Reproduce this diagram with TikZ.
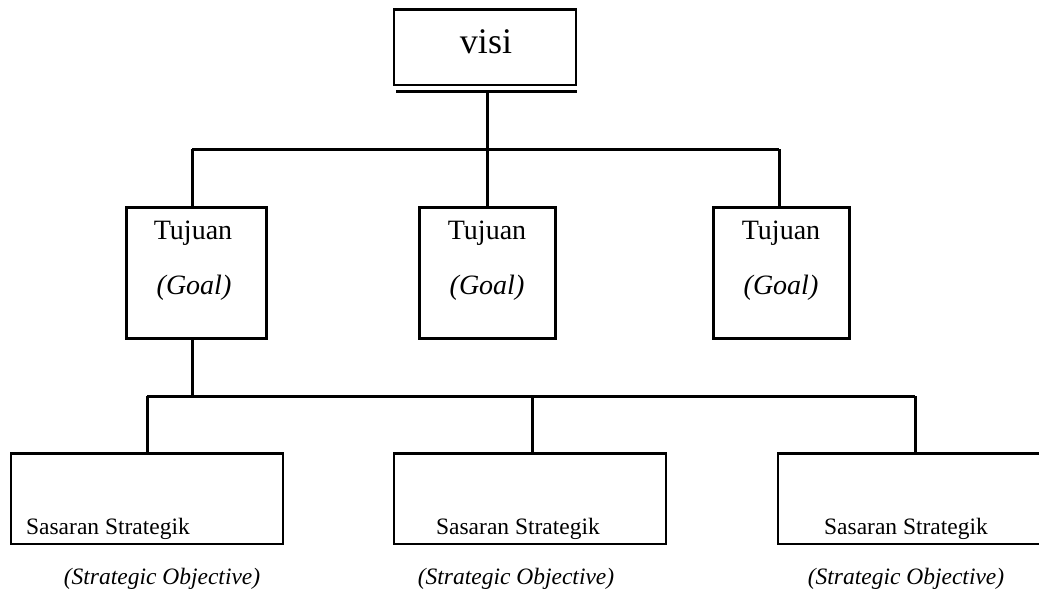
\documentclass[tikz,border=0pt]{standalone}
\usepackage{fontspec}
\setmainfont{Liberation Serif}
\begin{document}
\begin{tikzpicture}[x=1pt,y=-1pt,
  thinbox/.style={draw,line width=1.5pt,inner sep=0pt,minimum width=#1},
  goalbox/.style={draw,line width=3pt,inner sep=0pt,minimum width=#1,minimum height=131pt},
  conn/.style={line width=3pt},
  topedge/.style={line width=3pt},
  bigtxt/.style={anchor=base,inner sep=0pt,font=\fontsize{28}{32}\selectfont},
  midtxt/.style={anchor=base,inner sep=0pt,font=\fontsize{23.5}{28}\selectfont},
  ittxt/.style={anchor=base,inner sep=0pt,font=\fontsize{23.5}{28}\selectfont\itshape}]
\useasboundingbox (0,0) rectangle (1039,590);
\clip (0,0) rectangle (1039,590);
\fill[white] (0,0) rectangle (1039,590);
% visi
\node[thinbox=182pt,minimum height=75pt] (visi) at (485,47.5) {};
\draw[line width=2pt] (visi.north west) -- (visi.north east);
\node[anchor=base,inner sep=0pt,font=\fontsize{36}{40}\selectfont] (tvisi) at (486,53) {visi};
\coordinate (vbl) at (396,91);
\coordinate (vbr) at (577,91);
\draw[conn] (vbl) -- (vbr);
\coordinate (vb) at (487,91);
% goals
\node[goalbox=140pt] (g1) at (196,272.5) {};
\node[goalbox=136pt] (g2) at (487,272.5) {};
\node[goalbox=136pt] (g3) at (781,272.5) {};
\node[bigtxt] (t1) at (193,239) {Tujuan};
\node[bigtxt] (t2) at (487,239) {Tujuan};
\node[bigtxt] (t3) at (781,239) {Tujuan};
\node[bigtxt,font=\fontsize{28}{32}\selectfont\itshape] (o1) at (194,294) {(Goal)};
\node[bigtxt,font=\fontsize{28}{32}\selectfont\itshape] (o2) at (487,294) {(Goal)};
\node[bigtxt,font=\fontsize{28}{32}\selectfont\itshape] (o3) at (781,294) {(Goal)};
% bus 1
\coordinate (b1) at (487,149);
\coordinate (b1l) at (192,149);
\coordinate (b1r) at (779,149);
\draw[conn] (vb) -- (b1);
\draw[conn] (b1l) -- (b1r);
\draw[conn] (b1l) -- (b1l |- g1.north);
\draw[conn] (b1) -- (g2.north);
\draw[conn] (b1r) -- (b1r |- g3.north);
% objectives
\node[thinbox=272pt,minimum height=90pt] (s1) at (147,499) {};
\node[thinbox=272pt,minimum height=90pt] (s2) at (530,499) {};
\node[thinbox=272pt,minimum height=90pt] (s3) at (914,499) {};
\draw[topedge] (s1.north west) -- (s1.north east);
\draw[topedge] (s2.north west) -- (s2.north east);
\draw[topedge] (s3.north west) -- (s3.north east);
\node[midtxt] (u1) at (108,534) {Sasaran Strategik};
\node[midtxt] (u2) at (518,534) {Sasaran Strategik};
\node[midtxt] (u3) at (906,534) {Sasaran Strategik};
\node[ittxt] (v1) at (162,584) {(Strategic Objective)};
\node[ittxt] (v2) at (516,584) {(Strategic Objective)};
\node[ittxt] (v3) at (906,584) {(Strategic Objective)};
% bus 2
\coordinate (b2) at (192,396);
\coordinate (b2l) at (147,396);
\coordinate (b2m) at (532,396);
\coordinate (b2r) at (915,396);
\draw[conn] (g1.south -| b2) -- (b2);
\draw[conn] (b2l) -- (b2r);
\draw[conn] (b2l) -- (b2l |- s1.north);
\draw[conn] (b2m) -- (b2m |- s2.north);
\draw[conn] (b2r) -- (b2r |- s3.north);
\end{tikzpicture}
\end{document}
